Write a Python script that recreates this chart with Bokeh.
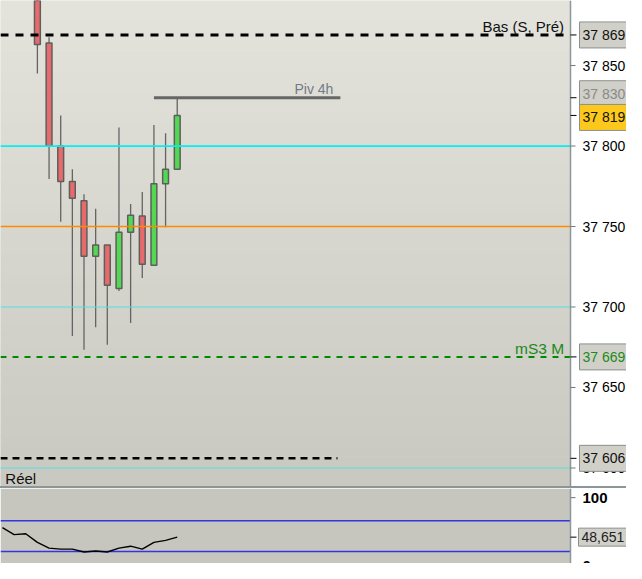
import numpy as np
from bokeh.plotting import figure
from bokeh.models import Range1d, Label, Div
from bokeh.layouts import column
from bokeh.core.properties import value
from bokeh.embed import file_html
from bokeh.resources import INLINE

# ---------------- data ----------------
bar_index = [3, 4, 5, 6, 7, 8, 9, 10, 11, 12, 13, 14, 15]
opens = [37905, 37864, 37800, 37778, 37766, 37731.5, 37738.5, 37711.5, 37746.5, 37756.5, 37726, 37776.5, 37785.5]
highs = [37912, 37867.5, 37819, 37785.5, 37770, 37761, 37738.5, 37811.5, 37764, 37771.5, 37813, 37808, 37830.5]
lows = [37845, 37779.5, 37753, 37682, 37673.5, 37687.5, 37676.5, 37710, 37690, 37718, 37726, 37749.5, 37785.5]
closes = [37863, 37800, 37778, 37767.5, 37731.5, 37738.5, 37713.5, 37746.5, 37757, 37726.5, 37776.5, 37785.5, 37819]

osc_index = list(range(16))
osc_values = [61.0, 51.9, 53.1, 41.9, 34.4, 33.1, 33.1, 29.4, 30.6, 29.4, 34.4, 36.9, 33.1, 41.9, 44.4, 48.651]
osc_bands = [70, 30]
osc_ticks = [100]
osc_tick_labels = ["100"]
osc_last = 48.651
osc_last_label = "48,651"
osc_zero_label = "0"

price_ticks = [37600, 37650, 37700, 37750, 37800, 37850]
bas_level, bas_label = 37869, "Bas (S, Pré)"
piv_level, piv_label = 37830, "Piv 4h"
piv_from, piv_to = 13, 29
ms3_level, ms3_label = 37669, "mS3 M"
low_level = 37606
low_to = 28.75
cyan_level = 37800
orange_level = 37750
thin_levels = [37700, 37600]
last_close = 37819
panel_label = "Réel"

FONT = "Liberation Sans"


def fmt(v):
    return f"{v:,.0f}".replace(",", " ")


# ---------------- geometry ----------------
W = 626
FRAME_W = 570
X_START, X_END = -0.1667, 48.75
PX = (X_END - X_START) / FRAME_W      # data units per pixel
X_FULL = X_START + W * PX
Y_MIN, Y_MAX = 37588.5, 37890.4
AXIS_COL = "#8a9898"
TICK_COL = "#6a7a7a"
BOX_PAD = dict(x=3, y=5)

# ---------------- main price panel ----------------
p1 = figure(width=W, height=486, x_range=Range1d(X_START, X_FULL), y_range=Range1d(Y_MIN, Y_MAX),
            toolbar_location=None, output_backend="svg", x_axis_location=None, y_axis_location=None,
            min_border_left=0, min_border_right=0, min_border_top=0, min_border_bottom=0)
p1.grid.visible = False
p1.outline_line_color = None
p1.border_fill_color = "white"
p1.background_fill_color = "white"

# vertical gradient background of the chart area
n = 48
edges = np.linspace(Y_MIN, Y_MAX, n + 1)
c_bot = np.array([201, 201, 193])
c_top = np.array([228, 228, 221])
cols = []
for k in range(n):
    t = (k + 0.5) / n
    c = (c_bot * (1 - t) + c_top * t).astype(int)
    cols.append("#%02x%02x%02x" % tuple(c))
p1.quad(left=X_START, right=X_END, bottom=edges[:-1], top=edges[1:], fill_color=cols, line_color=cols, line_width=1)

# candles
o = np.array(opens); c = np.array(closes)
up = c >= o
body_col = ["#52d852" if u else "#e86b6b" for u in up]
p1.segment(x0=bar_index, y0=lows, x1=bar_index, y1=highs, line_color="#646464", line_width=1.3)
p1.vbar(x=bar_index, width=0.5, top=np.maximum(o, c), bottom=np.minimum(o, c),
        fill_color=body_col, line_color="#5e5e5e", line_width=1.5)

# horizontal levels
p1.segment(x0=X_START, x1=X_END, y0=thin_levels, y1=thin_levels, line_color="#55e0e4", line_width=1)
p1.segment(x0=[X_START], x1=[X_END], y0=[cyan_level], y1=[cyan_level], line_color="#00f0f4", line_width=1.8)
p1.segment(x0=[X_START], x1=[X_END], y0=[orange_level], y1=[orange_level], line_color="#ff8a00", line_width=1.6)
p1.segment(x0=[X_START], x1=[X_END], y0=[bas_level], y1=[bas_level], line_color="black", line_width=3,
           line_dash="8 7")
p1.segment(x0=[X_START], x1=[X_END], y0=[ms3_level], y1=[ms3_level], line_color="#008a00", line_width=2,
           line_dash="6 6")
p1.segment(x0=[X_START], y0=[low_level], x1=[low_to], y1=[low_level], line_color="black",
           line_width=2.5, line_dash="7 5")
p1.segment(x0=[piv_from], y0=[piv_level], x1=[piv_to], y1=[piv_level], line_color="#666666", line_width=3)

p1.add_layout(Label(x=48.2, y=bas_level, text=bas_label, text_align="right", text_baseline="bottom",
                    y_offset=0, text_font=FONT, text_font_size="15px", text_color="#111111"))
p1.add_layout(Label(x=28.4, y=piv_level, text=piv_label, text_align="right", text_baseline="bottom",
                    y_offset=1, text_font=FONT, text_font_size="14px", text_color="#737a84"))
p1.add_layout(Label(x=48.2, y=ms3_level, text=ms3_label, text_align="right", text_baseline="bottom",
                    y_offset=0, text_font=FONT, text_font_size="15.5px", text_color="#1a8a1a"))
p1.add_layout(Label(x=0.25, y=Y_MIN, text=panel_label, text_align="left", text_baseline="bottom",
                    y_offset=0, text_font=FONT, text_font_size="15px", text_color="#111111"))

# price scale (right)
special = [bas_level, piv_level, last_close, ms3_level, low_level]
p1.quad(left=X_END, right=X_FULL, bottom=Y_MIN, top=Y_MAX, fill_color="white", line_color=None)
p1.segment(x0=[X_END], x1=[X_END], y0=[Y_MIN], y1=[Y_MAX], line_color=AXIS_COL, line_width=1.5)
p1.segment(x0=X_END, x1=X_END + 5 * PX, y0=price_ticks, y1=price_ticks, line_color=TICK_COL, line_width=1)
p1.segment(x0=X_END, x1=X_END + 6 * PX, y0=special, y1=special, line_color="black", line_width=1)
p1.text(x=X_END + 12 * PX, y=price_ticks, text=[fmt(t) for t in price_ticks], text_align="left",
        text_baseline="middle", text_font=value(FONT), text_font_size="14px", text_color="black")

box_specs = [
    (bas_level, "#d0d0c8", "#111111", 0),
    (low_level, "#d0d0c8", "#111111", 0),
    (ms3_level, "#d0d0c8", "#1a8a1a", 0),
    (piv_level, "#d0d0c8", "#8a8a8a", 4),
    (last_close, "#fcc81c", "#111111", -2),
]
for lv, bg, tc, yo in box_specs:
    p1.add_layout(Label(x=X_END + 9 * PX, y=lv, text=fmt(lv), text_align="left", text_baseline="middle",
                        y_offset=yo, text_font=FONT, text_font_size="14px", text_color=tc,
                        background_fill_color=bg, border_line_color="#8a9090", border_line_width=1,
                        padding=BOX_PAD))

# ---------------- separator ----------------
sep = Div(width=W, height=2, styles={"background-color": "#8c9696"}, margin=0)

# ---------------- oscillator panel ----------------
O_MIN, O_MAX = 14.4, 111.9
p2 = figure(width=W, height=75, x_range=p1.x_range, y_range=Range1d(O_MIN, O_MAX),
            toolbar_location=None, output_backend="svg", x_axis_location=None, y_axis_location=None,
            min_border_left=0, min_border_right=0, min_border_top=0, min_border_bottom=0)
p2.grid.visible = False
p2.outline_line_color = None
p2.border_fill_color = "white"
p2.background_fill_color = "white"
p2.quad(left=X_START, right=X_END, bottom=O_MIN, top=O_MAX, fill_color="#c6c6be", line_color=None)
p2.segment(x0=X_START, x1=X_END, y0=osc_bands, y1=osc_bands, line_color="#3434e0", line_width=1.3)
p2.line(osc_index, osc_values, line_color="black", line_width=1.4)

p2.segment(x0=[X_END], x1=[X_END], y0=[O_MIN], y1=[O_MAX], line_color=AXIS_COL, line_width=1.5)
p2.segment(x0=X_END, x1=X_END + 5 * PX, y0=osc_ticks, y1=osc_ticks, line_color=TICK_COL, line_width=1)
p2.segment(x0=[X_END], x1=[X_END + 6 * PX], y0=[osc_last], y1=[osc_last], line_color="black", line_width=1)
p2.text(x=X_END + 12 * PX, y=osc_ticks, text=osc_tick_labels, text_align="left", text_baseline="middle",
        text_font=value(FONT), text_font_size="15px", text_font_style="bold", text_color="black")
p2.add_layout(Label(x=X_END + 8 * PX, y=osc_last, text=osc_last_label, text_align="left", text_baseline="middle",
                    text_font=FONT, text_font_size="14px", text_color="#222222",
                    background_fill_color="#d0d0c8", border_line_color="#8a9090", border_line_width=1,
                    padding=dict(x=3, y=4)))
p2.add_layout(Label(x=X_END + 12 * PX, y=18, text=osc_zero_label, text_align="left", text_baseline="top",
                    text_font=FONT, text_font_size="15px", text_font_style="bold", text_color="black"))

layout = column(p1, sep, p2, spacing=0)
open("out.html", "w").write(file_html(layout, INLINE))
